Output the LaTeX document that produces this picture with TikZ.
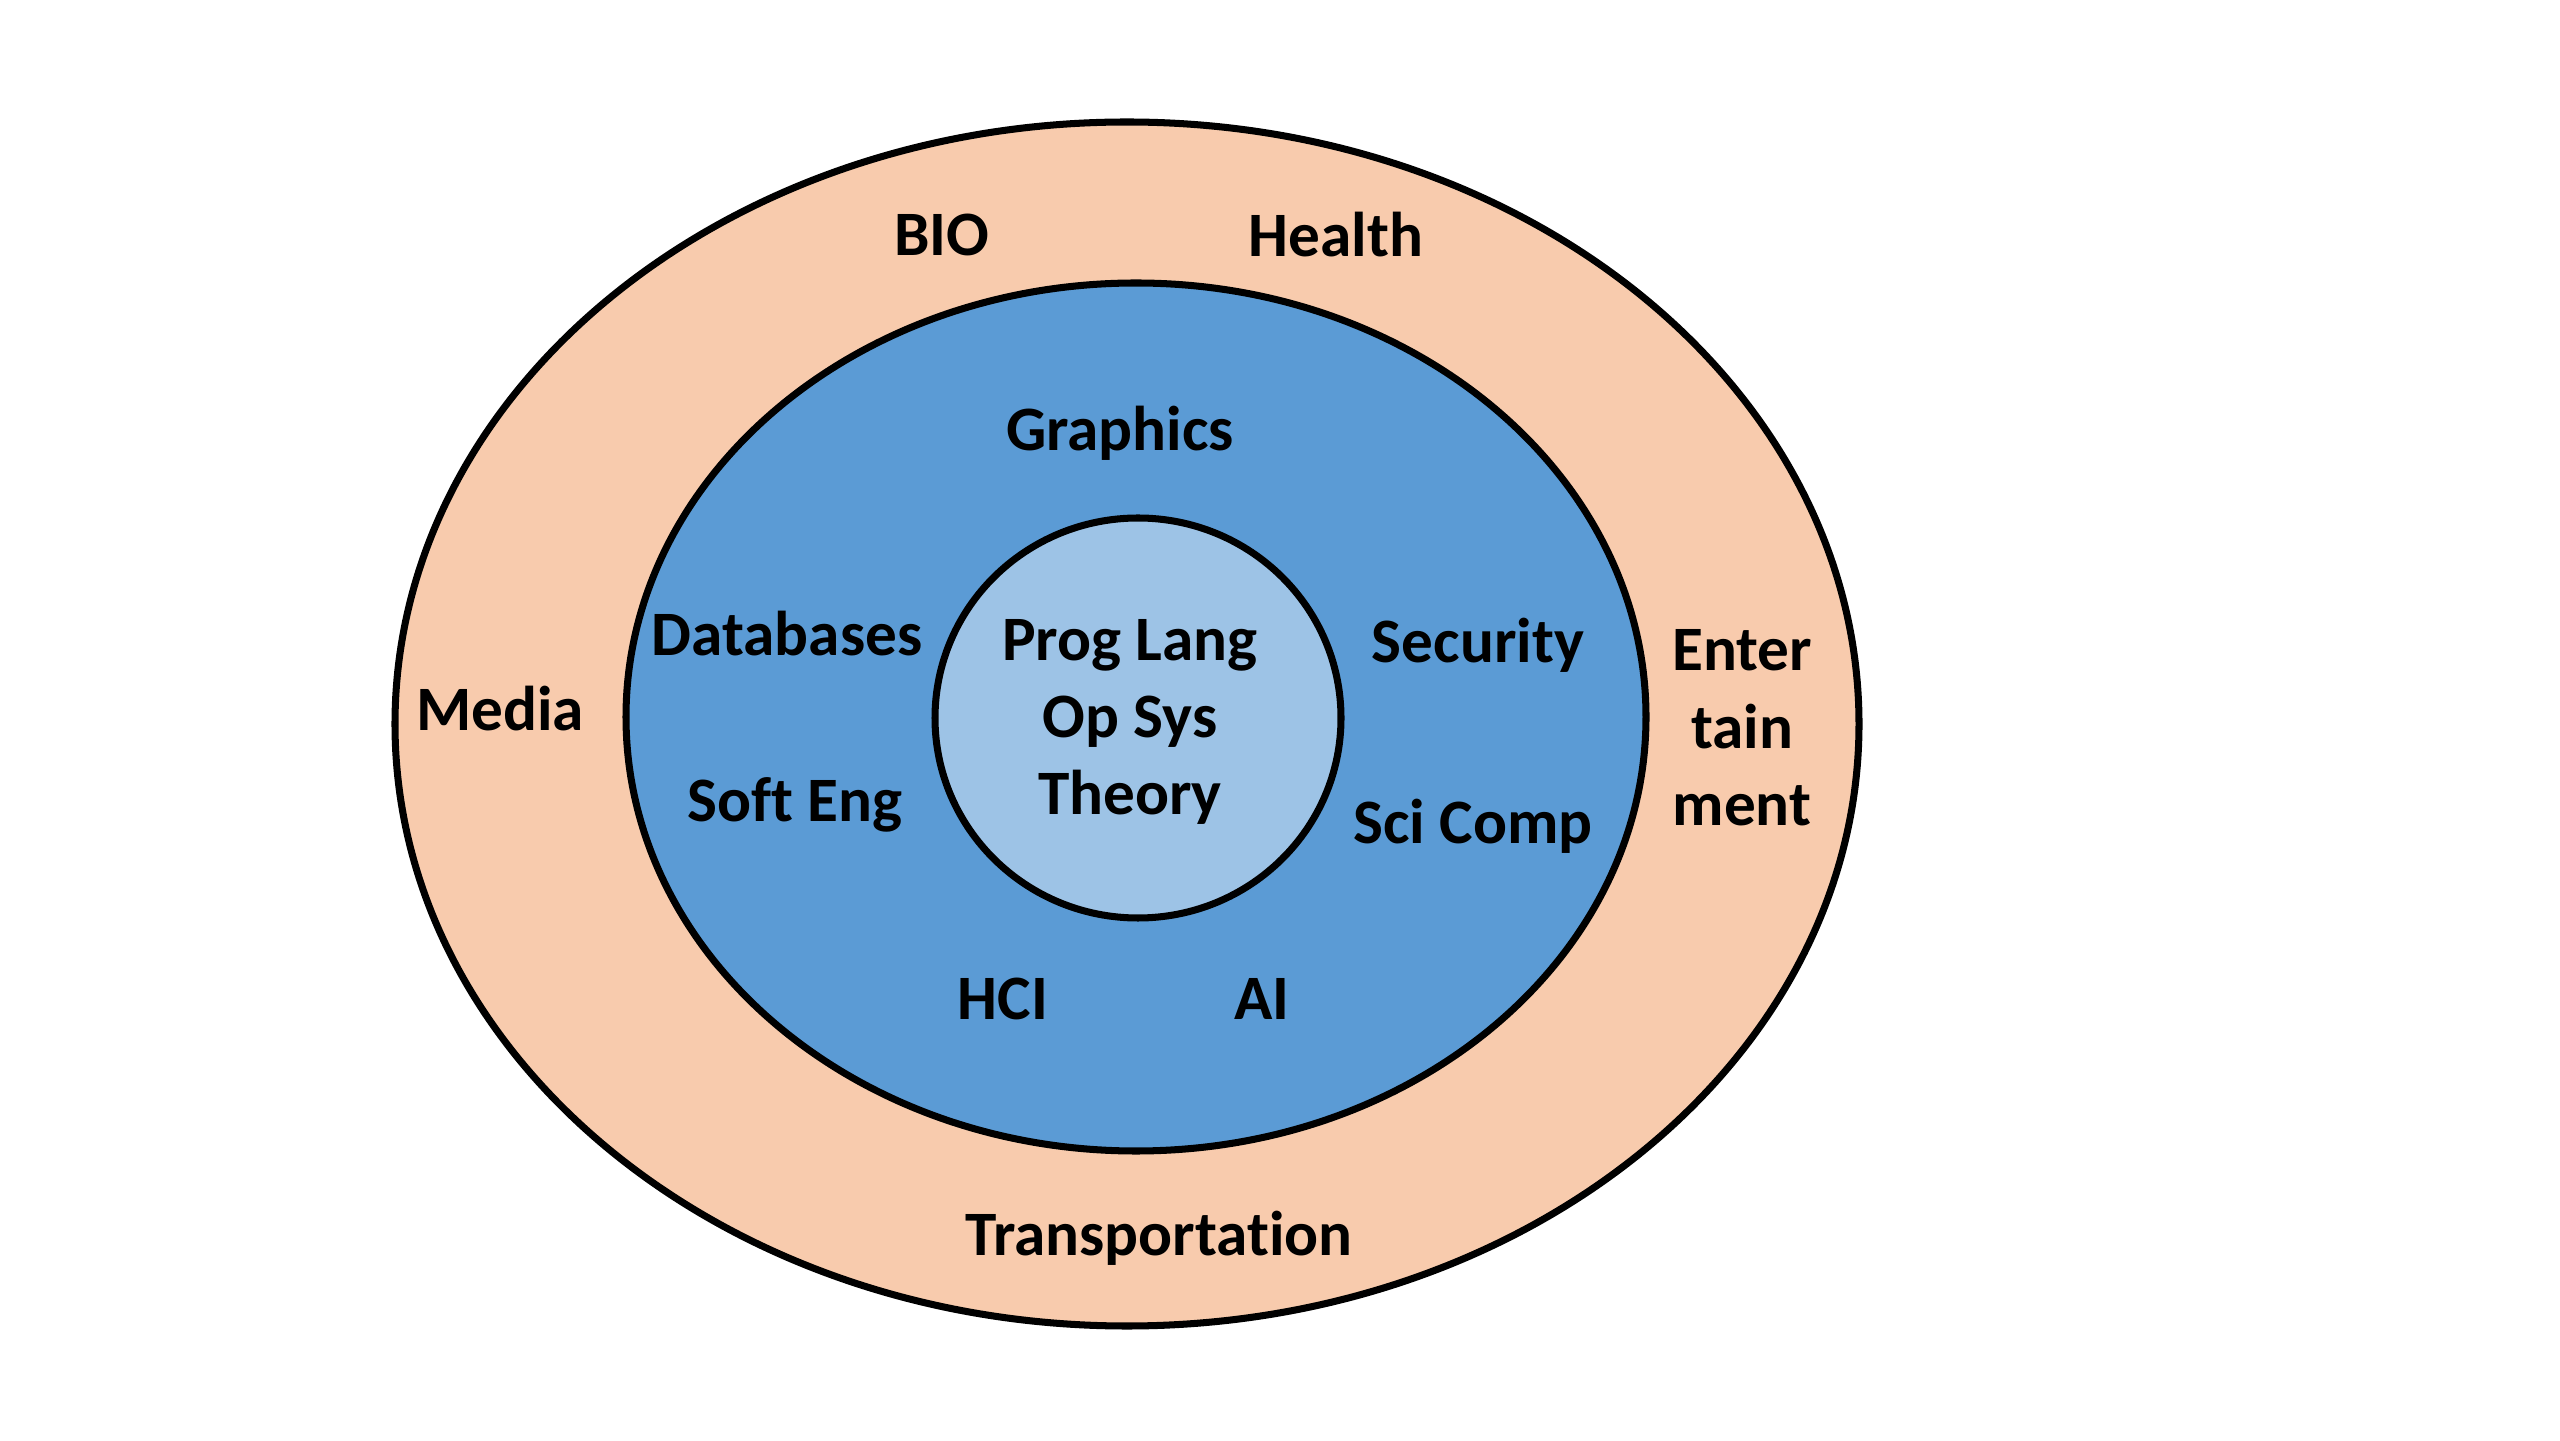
\documentclass[tikz,border=0pt]{standalone}
\usepackage{fontspec}
\setmainfont[Ligatures=NoCommon]{Carlito}
\usepackage{xcolor}
\usetikzlibrary{positioning}
\definecolor{peach}{HTML}{F8CBAD}
\definecolor{midblue}{HTML}{5B9BD5}
\definecolor{paleblue}{HTML}{9DC3E6}

\begin{document}
\begin{tikzpicture}[font=\fontsize{18}{22}\selectfont\bfseries,ring/.style={draw=black,line width=2pt},lbl/.style={inner sep=0pt,align=center}]
\useasboundingbox (0,0) rectangle (25.6,14.4);
% three rings, outside in
\draw[ring,fill=peach] (11.27,7.16) ellipse [x radius=7.32cm,y radius=6.02cm];
\draw[ring,fill=midblue] (11.36,7.23) ellipse [x radius=5.10cm,y radius=4.34cm];
\draw[ring,fill=paleblue] (11.38,7.22) ellipse [x radius=2.03cm,y radius=2.00cm];
% core
\node[lbl] (core) at (11.30,7.18) {Prog Lang\\Op Sys\\Theory};
% middle ring
\node[lbl] (gfx) at (11.20,10.07) {Graphics};
\node[lbl] (db) at (7.87,8.06) {Databases};
\node[lbl] (sec) at (14.78,7.95) {Security};
\node[lbl] (se) at (7.95,6.35) {Soft Eng};
\node[lbl] (sci) at (14.73,6.14) {Sci Comp};
\node[lbl] (hci) at (10.03,4.41) {HCI};
\node[lbl] (ai) at (12.62,4.41) {AI};
% outer ring
\node[lbl] (bio) at (9.42,12.05) {BIO};
\node[lbl] (health) at (13.36,12.05) {Health};
\node[lbl] (media) at (5.00,7.31) {Media};
\node[lbl] (ent) at (17.42,7.12) {Enter\\tain\\ment};
\node[lbl] (trans) at (11.59,2.02) {Transportation};
\end{tikzpicture}
\end{document}
